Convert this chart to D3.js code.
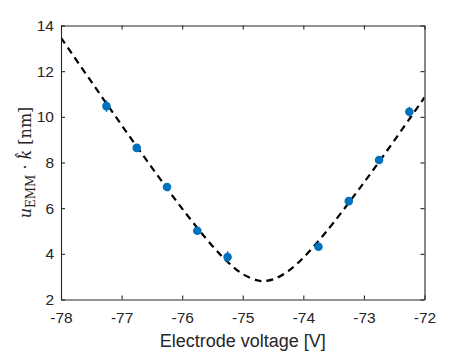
<!DOCTYPE html>
<html><head><meta charset="utf-8">
<script src="https://cdn.jsdelivr.net/npm/d3@7"></script>
<style>body{margin:0;background:#fff}svg{display:block}</style>
</head><body>
<script>
// Measured data
const voltages = [-77.25, -76.75, -76.25, -75.75, -75.25, -73.75, -73.25, -72.75, -72.25];
const values   = [10.47, 8.64, 6.93, 5.01, 3.86, 4.31, 6.31, 8.11, 10.22];
const errors   = [0.25, 0.15, 0.15, 0.15, 0.25, 0.15, 0.15, 0.15, 0.22];
// Fit curve
const fitX = [-78, -77.5, -77, -76.5, -76, -75.5, -75.25, -75, -74.75, -74.66, -74.5, -74.25, -74, -73.75, -73.5, -73, -72.5, -72];
const fitY = [13.46, 11.54, 9.64, 7.78, 5.98, 4.34, 3.65, 3.11, 2.83, 2.81, 2.88, 3.24, 3.83, 4.56, 5.37, 7.12, 8.96, 10.85];
const xTicks = [-78, -77, -76, -75, -74, -73, -72];
const yTicks = [2, 4, 6, 8, 10, 12, 14];

const W = 469, H = 352;
const m = {l: 61, r: 44.5, t: 25.5, b: 52.5};
const svg = d3.select("body").append("svg").attr("width", W).attr("height", H);
const x = d3.scaleLinear().domain([-78, -72]).range([m.l, W - m.r]);
const y = d3.scaleLinear().domain([2, 14]).range([H - m.b, m.t]);
const axisCol = "#262626";
const tickFont = "'Liberation Sans', Arial, sans-serif";
const fmt = d => String(d); // plain hyphen-minus like the reference

svg.append("clipPath").attr("id", "c").append("rect")
  .attr("x", m.l).attr("y", m.t).attr("width", W - m.l - m.r).attr("height", H - m.t - m.b);

// fit curve
svg.append("path")
  .datum(fitX.map((v, i) => [v, fitY[i]]))
  .attr("clip-path", "url(#c)")
  .attr("d", d3.line().x(d => x(d[0])).y(d => y(d[1])).curve(d3.curveCatmullRom))
  .attr("fill", "none").attr("stroke", "#000").attr("stroke-width", 2.2)
  .attr("stroke-dasharray", "7,5");

// error bars & points
const pts = voltages.map((v, i) => ({x: v, y: values[i], e: errors[i]}));
svg.append("g").selectAll("line").data(pts).join("line")
  .attr("x1", d => x(d.x)).attr("x2", d => x(d.x))
  .attr("y1", d => y(d.y - d.e)).attr("y2", d => y(d.y + d.e))
  .attr("stroke", "#0072BD").attr("stroke-width", 1.5);
svg.append("g").selectAll("circle").data(pts).join("circle")
  .attr("cx", d => x(d.x)).attr("cy", d => y(d.y)).attr("r", 4.3)
  .attr("fill", "#0072BD");

function styleAxis(g) {
  g.select(".domain").attr("stroke", axisCol).attr("stroke-width", 1.1);
  g.selectAll(".tick line").attr("stroke", axisCol).attr("stroke-width", 1.1);
  g.selectAll(".tick text").attr("fill", "#262626").style("font-family", tickFont).style("font-size", "15.5px");
}
svg.append("g").attr("transform", `translate(0,${H - m.b})`)
  .call(d3.axisBottom(x).tickValues(xTicks).tickFormat(fmt).tickSizeInner(-4).tickSizeOuter(0).tickPadding(12))
  .call(styleAxis);
svg.append("g").attr("transform", `translate(0,${m.t})`)
  .call(d3.axisTop(x).tickValues(xTicks).tickFormat("").tickSizeInner(-4).tickSizeOuter(0))
  .call(styleAxis);
svg.append("g").attr("transform", `translate(${m.l},0)`)
  .call(d3.axisLeft(y).tickValues(yTicks).tickFormat(fmt).tickSizeInner(-4).tickSizeOuter(0).tickPadding(7))
  .call(styleAxis);
svg.append("g").attr("transform", `translate(${W - m.r},0)`)
  .call(d3.axisRight(y).tickValues(yTicks).tickFormat("").tickSizeInner(-4).tickSizeOuter(0))
  .call(styleAxis);

// x label
svg.append("text").attr("x", (m.l + W - m.r) / 2).attr("y", 347)
  .attr("text-anchor", "middle").attr("fill", "#262626")
  .style("font-family", tickFont).style("font-size", "18px")
  .text("Electrode voltage [V]");

// y label (math style)
const yl = svg.append("text")
  .attr("transform", `translate(31,${(m.t + H - m.b) / 2}) rotate(-90)`)
  .attr("text-anchor", "middle").attr("fill", "#262626")
  .style("font-family", "'DejaVu Serif', 'Liberation Serif', serif").style("font-size", "16px");
yl.append("tspan").style("font-style", "italic").text("u");
yl.append("tspan").attr("dy", 4).style("font-size", "12px").text("EMM");
yl.append("tspan").attr("dy", -4).text(" · ");
yl.append("tspan").style("font-style", "italic").text("k̂");
yl.append("tspan").text(" [nm]");
</script>
</body></html>
